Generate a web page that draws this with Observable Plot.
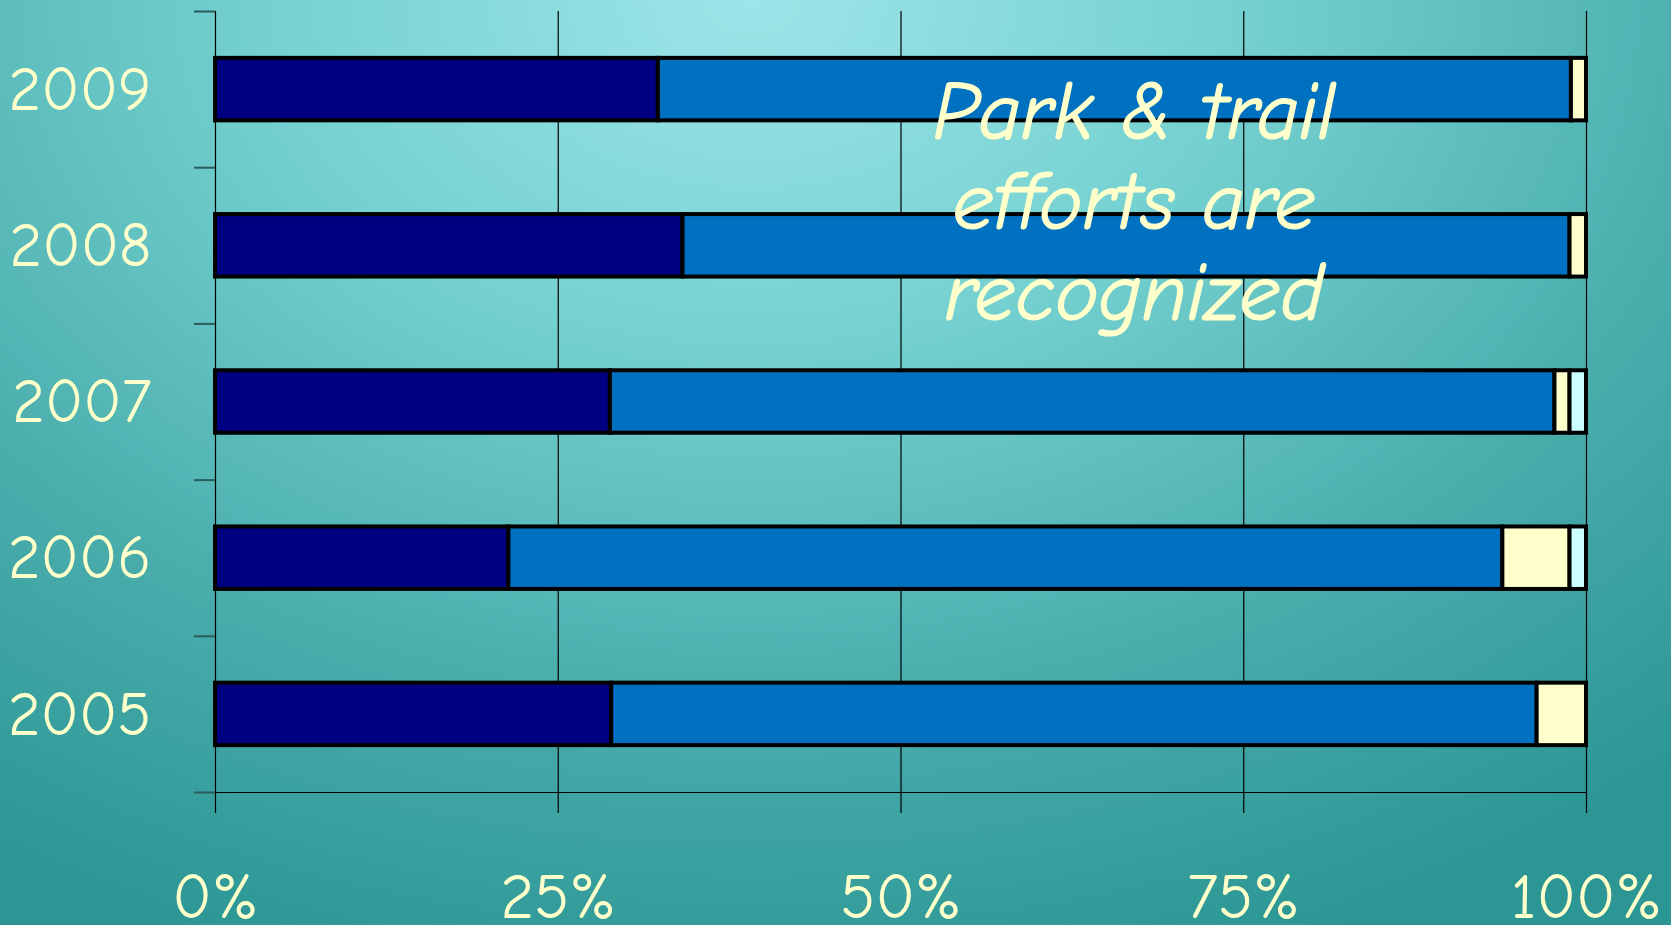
<!DOCTYPE html>
<html>
<head>
<meta charset="utf-8">
<script src="https://cdn.jsdelivr.net/npm/d3@7"></script>
<script src="https://cdn.jsdelivr.net/npm/@observablehq/plot@0.6"></script>
<style>
  html, body { margin: 0; padding: 0; }
  body {
    width: 1671px; height: 925px; overflow: hidden;
    background: radial-gradient(ellipse 85% 110% at 45% 0%, #9de5e8 0%, #74d0d0 35%, #48acab 70%, #2b9694 100%);
  }
  #chart svg { display: block; overflow: visible; }
</style>
</head>
<body>
<div id="chart"></div>
<script>
// ---- data ----
const years = [2009, 2008, 2007, 2006, 2005];
const seriesNames = ["Segment 1", "Segment 2", "Segment 3", "Segment 4"];
const seriesColors = ["#000080", "#0070C0", "#FFFFCC", "#CCFFFF"];
const segment1 = [32.3, 34.1, 28.8, 21.4, 28.9];
const segment2 = [66.6, 64.7, 68.9, 72.5, 67.5];
const segment3 = [1.1, 1.2, 1.1, 4.9, 3.6];
const segment4 = [0.0, 0.0, 1.2, 1.2, 0.0];
const xTickValues = [0, 25, 50, 75, 100];
const annotationText = "Park & trail\nefforts are\nrecognized";
const annotationPos = {x: 67, y: 2008.29};

// ---- table for the library ----
const seriesValues = [segment1, segment2, segment3, segment4];
const rows = [];
years.forEach((yr, i) => {
  seriesValues.forEach((vals, s) => {
    if (vals[i] > 0) rows.push({year: yr, series: seriesNames[s], order: s, value: vals[i]});
  });
});
const yDomain = [d3.min(years) - 0.5, d3.max(years) + 0.5];
const boundaries = d3.range(yDomain[0], yDomain[1] + 0.01, 1);
const halfBar = 0.2;

const font = '"Comic Sans MS", "Comic Neue", Lato, sans-serif';
const cream = "#FFFFCC";

const chart = Plot.plot({
  width: 1671,
  height: 925,
  marginLeft: 215,
  marginRight: 85,
  marginTop: 11,
  marginBottom: 133,
  style: {background: "transparent", fontFamily: font, overflow: "visible"},
  x: {domain: [0, 100], label: null},
  y: {domain: yDomain, label: null},
  color: {domain: seriesNames, range: seriesColors},
  marks: [
    Plot.ruleX(xTickValues, {stroke: "#000", strokeWidth: 1.2, insetBottom: -21}),
    Plot.ruleY([yDomain[0]], {stroke: "#000", strokeWidth: 1.2}),
    Plot.axisY({ticks: boundaries, tickSize: 21, tickFormat: () => "", label: null, stroke: "#2b5c5c", strokeWidth: 2}),
    Plot.axisY({ticks: years, tickSize: 0, tickPadding: 64, tickFormat: d => String(d), label: null,
      fontSize: 63, fill: cream, color: cream}),
    Plot.axisX({ticks: xTickValues, tickSize: 0, tickPadding: 79, tickFormat: d => d + "%", label: null,
      fontSize: 65, fill: cream, color: cream}),
    Plot.rectX(rows, Plot.stackX({
      x: "value",
      y1: d => d.year + halfBar,
      y2: d => d.year - halfBar,
      fill: "series",
      order: "order",
      stroke: "#000",
      strokeWidth: 4
    })),
    Plot.text([annotationText], {
      x: () => annotationPos.x, y: () => annotationPos.y,
      text: d => d,
      fontSize: 82, fontStyle: "italic", fill: cream,
      lineHeight: 1.1, textAnchor: "middle",
      stroke: cream, strokeWidth: 1.2
    })
  ]
});
document.getElementById("chart").appendChild(chart);
</script>
</body>
</html>
